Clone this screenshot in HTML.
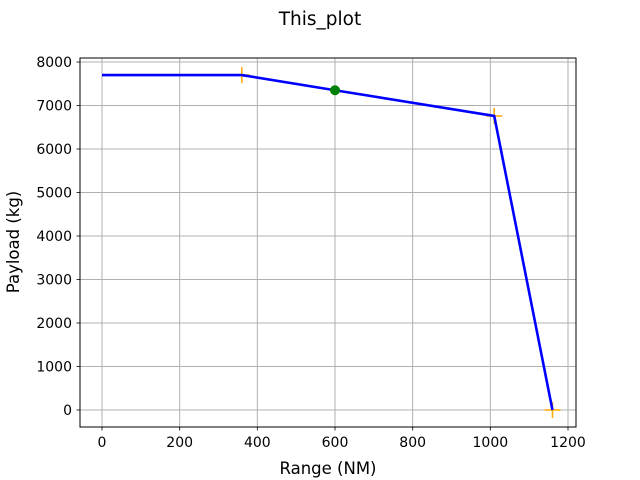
<!DOCTYPE html>
<html><head><meta charset="utf-8"><style>body{margin:0;background:#fff}svg{display:block;font-family:"DejaVu Sans","Liberation Sans",sans-serif}</style></head>
<body>
<svg id="chart" width="640" height="480" viewBox="0 0 640 480" xmlns="http://www.w3.org/2000/svg">
<rect width="640" height="480" fill="#fff"/>
<text x="320" y="25" font-size="18.5" text-anchor="middle">This_plot</text>
<g id="grid"></g>
<g id="ticks"></g>
<g id="series"></g>
<rect x="80" y="58" width="496" height="369" fill="none" stroke="#000" stroke-width="1"/>
<text x="328" y="474" font-size="16.5" text-anchor="middle">Range (NM)</text>
<text transform="translate(19,242) rotate(-90)" font-size="16.5" text-anchor="middle">Payload (kg)</text>
</svg>
<script>
const rangeNM = [0, 360, 600, 1010, 1160];
const payloadKg = [7700, 7700, 7350, 6760, 0];
const plusRange = [360, 1010, 1160];
const plusPayload = [7700, 6760, 0];
const dotRange = [600];
const dotPayload = [7350];
const xTicks = [0, 200, 400, 600, 800, 1000, 1200];
const yTicks = [0, 1000, 2000, 3000, 4000, 5000, 6000, 7000, 8000];

const NS = "http://www.w3.org/2000/svg";
const X = v => 102 + v * (466 / 1200);
const Y = v => 410 - v * (348 / 8000);
function mk(tag, attrs, parent) {
  const e = document.createElementNS(NS, tag);
  for (const k in attrs) e.setAttribute(k, attrs[k]);
  parent.appendChild(e);
  return e;
}
const grid = document.getElementById('grid');
const ticks = document.getElementById('ticks');
const series = document.getElementById('series');

xTicks.forEach(t => {
  const x = X(t);
  const g = mk('line', {x1: x, x2: x, y1: 58, y2: 427, stroke: '#b0b0b0', 'stroke-width': 1}, grid);
  
  
  mk('line', {x1: x, x2: x, y1: 427, y2: 430.5, stroke: '#000', 'stroke-width': 0.8}, ticks);
  const l = mk('text', {x: x, y: 447, 'font-size': 14, 'text-anchor': 'middle'}, ticks);
  l.textContent = t;
  
  
});
yTicks.forEach(t => {
  const y = Y(t);
  const g = mk('line', {x1: 80, x2: 576, y1: y, y2: y, stroke: '#b0b0b0', 'stroke-width': 1}, grid);
  
  
  mk('line', {x1: 76.5, x2: 80, y1: y, y2: y, stroke: '#000', 'stroke-width': 0.8}, ticks);
  const l = mk('text', {x: 72, y: y + 5, 'font-size': 14, 'text-anchor': 'end'}, ticks);
  l.textContent = t;
  
  
});

plusRange.forEach((r, i) => {
  const x = X(r), y = Y(plusPayload[i]);
  const g = mk('g', {stroke: 'orange', 'stroke-width': 1.5}, series);
  
  
  mk('line', {x1: x - 8, x2: x + 8, y1: y, y2: y}, g);
  mk('line', {x1: x, x2: x, y1: y - 8, y2: y + 8}, g);
});

const pl = mk('polyline', {points: rangeNM.map((r, i) => X(r) + ',' + Y(payloadKg[i])).join(' '), fill: 'none', stroke: '#0000ff', 'stroke-width': 2.6, 'stroke-linejoin': 'round'}, series);



dotRange.forEach((r, i) => {
  const c = mk('circle', {cx: X(r), cy: Y(dotPayload[i]), r: 5, fill: 'green'}, series);
  
  
});
</script>
</body></html>
